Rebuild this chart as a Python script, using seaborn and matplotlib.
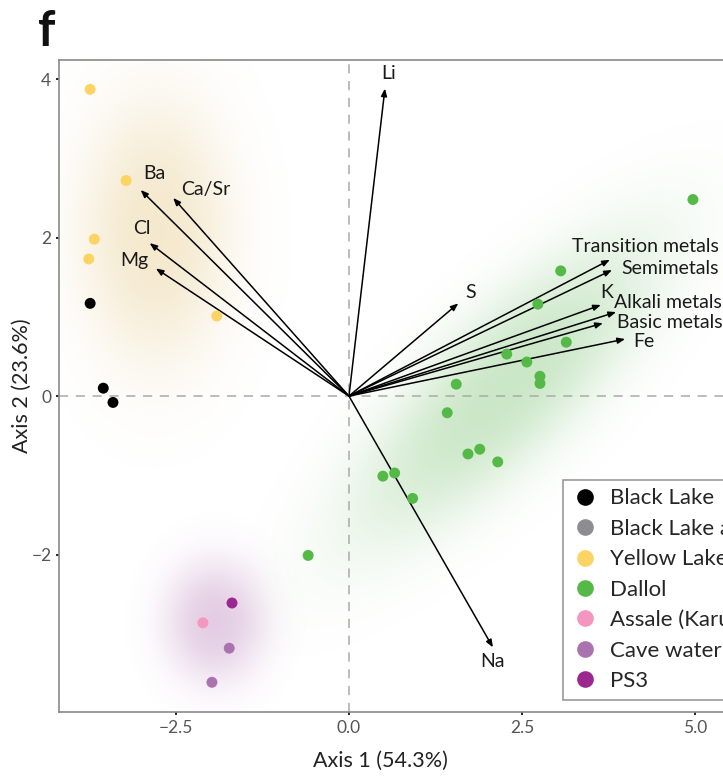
import numpy as np
import pandas as pd
import matplotlib
matplotlib.use("Agg")
import matplotlib.pyplot as plt
from matplotlib.lines import Line2D
import seaborn as sns

# sample scores (PCA axis 1 / axis 2)
black_x = [-3.74, -3.55, -3.41]
black_y = [1.17, 0.10, -0.08]
yellow_x = [-3.74, -3.22, -3.68, -3.76, -1.91]
yellow_y = [3.87, 2.72, 1.98, 1.73, 1.01]
dallol_x = [4.97, 3.06, 2.73, 3.14, 2.28, 2.57, 2.76, 2.76, 1.55, 1.42,
            1.72, 1.89, 2.15, 0.49, 0.66, 0.92, -0.59]
dallol_y = [2.48, 1.58, 1.16, 0.68, 0.53, 0.43, 0.25, 0.16, 0.15, -0.21,
            -0.73, -0.67, -0.83, -1.01, -0.97, -1.29, -2.01]
assale_x = [-2.11]
assale_y = [-2.86]
cave_x = [-1.73, -1.98]
cave_y = [-3.18, -3.61]
ps3_x = [-1.69]
ps3_y = [-2.61]

groups = ["Black Lake", "Black Lake area", "Yellow Lake", "Dallol",
          "Assale (Karum)", "Cave water", "PS3"]
group_colors = ["#000000", "#8C8C91", "#FDD364", "#55B948",
                "#F596BE", "#AA73AF", "#9B2891"]

# loadings (arrows)
var_names = ["Li", "Ba", "Ca/Sr", "Cl", "Mg", "S", "Transition metals",
             "Semimetals", "K", "Alkali metals", "Basic metals", "Fe", "Na"]
load_x = [0.52, -3.01, -2.54, -2.88, -2.79, 1.58, 3.77, 3.80, 3.64, 3.86, 3.67, 3.99, 2.08]
load_y = [3.88, 2.60, 2.50, 1.93, 1.61, 1.17, 1.72, 1.59, 1.15, 1.06, 0.92, 0.72, -3.17]

# label offsets from arrow tips (pixels)
label_off = {"Li": (4, 15), "Ba": (14, 17), "Ca/Sr": (33, 8), "Cl": (-8, 15),
             "Mg": (-22, 8), "S": (12, 11), "Transition metals": (36, 13),
             "Semimetals": (58, 2), "K": (6, 12), "Alkali metals": (52, 10),
             "Basic metals": (67, 1), "Fe": (19, -2), "Na": (0, -14)}

# density clouds: centre x, centre y, sd major, sd minor, angle (deg)
clouds = [
    ("Yellow Lake", -2.80, 2.07, 0.82, 1.25, 0, (225, 190, 110), 0.34),
    ("Dallol", 2.25, 0.1, 2.05, 0.70, 40, (90, 180, 80), 0.32),
    ("Cave water", -1.94, -2.85, 0.55, 0.58, 0, (170, 100, 170), 0.32),
]

df = pd.concat([
    pd.DataFrame({"x": black_x, "y": black_y, "group": "Black Lake"}),
    pd.DataFrame({"x": yellow_x, "y": yellow_y, "group": "Yellow Lake"}),
    pd.DataFrame({"x": dallol_x, "y": dallol_y, "group": "Dallol"}),
    pd.DataFrame({"x": assale_x, "y": assale_y, "group": "Assale (Karum)"}),
    pd.DataFrame({"x": cave_x, "y": cave_y, "group": "Cave water"}),
    pd.DataFrame({"x": ps3_x, "y": ps3_y, "group": "PS3"}),
], ignore_index=True)

sns.set_style("white")
plt.rcParams["font.family"] = ["Lato", "DejaVu Sans"]

W, H = 723, 779
fig = plt.figure(figsize=(W / 100, H / 100), dpi=100)
ax = fig.add_axes([59 / W, (H - 712) / H, (736.5 - 59) / W, (712 - 60) / H])
xlim = (-4.19, 5.6)
ylim = (-3.985, 4.24)

# soft density clouds
gx, gy = np.meshgrid(np.linspace(*xlim, 500), np.linspace(*ylim, 500))
for name, cx, cy, s1, s2, ang, col, peak in clouds:
    a = np.deg2rad(ang)
    u = (gx - cx) * np.cos(a) + (gy - cy) * np.sin(a)
    v = -(gx - cx) * np.sin(a) + (gy - cy) * np.cos(a)
    r2 = (u / s1) ** 2 + (v / s2) ** 2
    z = np.exp(-0.5 * r2 ** 1.25)
    img = np.zeros(gx.shape + (4,))
    img[..., :3] = np.array(col) / 255
    img[..., 3] = peak * z
    ax.imshow(img, extent=(*xlim, *ylim), origin="lower", aspect="auto",
              interpolation="bilinear", zorder=0)

ax.axhline(0, color="#AAAAAA", lw=1.1, ls=(0, (6, 5)), zorder=1)
ax.axvline(0, color="#AAAAAA", lw=1.1, ls=(0, (6, 5)), zorder=1)

# arrows + labels
for name, lx, ly in zip(var_names, load_x, load_y):
    ax.annotate("", xy=(lx, ly), xytext=(0, 0),
                arrowprops=dict(arrowstyle="-|>,head_length=0.55,head_width=0.22",
                                mutation_scale=8, lw=1.1, color="black",
                                shrinkA=0, shrinkB=0), zorder=2)
    dx, dy = label_off[name]
    ax.annotate(name, xy=(lx, ly), xytext=(dx * 0.72, dy * 0.72),
                textcoords="offset points", ha="center", va="center",
                fontsize=14, color="#1a1a1a", zorder=4)

sns.scatterplot(data=df, x="x", y="y", hue="group", hue_order=groups,
                palette=dict(zip(groups, group_colors)), s=62, linewidth=0,
                legend=False, ax=ax, zorder=3)

ax.set_xlim(*xlim)
ax.set_ylim(*ylim)
ax.set_xticks([-2.5, 0.0, 2.5, 5.0])
ax.set_xticklabels(["\u22122.5", "0.0", "2.5", "5.0"])
ax.set_yticks([-2, 0, 2, 4])
ax.set_yticklabels(["\u22122", "0", "2", "4"])
ax.tick_params(length=2.5, width=1.2, color="black", labelsize=12.5,
               labelcolor="#555555", pad=3, direction="out",
               bottom=True, left=True)
for sp in ax.spines.values():
    sp.set_color("#8A8A8A")
    sp.set_linewidth(1.2)

ax.set_xlabel("Axis 1 (54.3%)", fontsize=15.5, color="#222222")
ax.set_ylabel("Axis 2 (23.6%)", fontsize=15.5, color="#222222")
ax.xaxis.set_label_coords((380 - 59) / 677.5, (712 - 751) / 652)
ax.yaxis.set_label_coords((32 - 59) / 677.5, (712 - 386) / 652)

handles = [Line2D([], [], ls="", marker="o", markersize=12, color=c,
                  markeredgewidth=0) for c in group_colors]
leg = ax.legend(handles, groups, loc="lower left",
                bbox_to_anchor=(563 / W, (H - 700) / H),
                bbox_transform=fig.transFigure, borderaxespad=0,
                fontsize=16, frameon=True, fancybox=False, framealpha=1,
                edgecolor="#999999", labelspacing=0.47, handletextpad=0.5,
                handlelength=1.2, borderpad=0.4)
leg.get_frame().set_linewidth(1.2)

fig.text(38 / W, 1 - 32 / H, "f", fontsize=35, fontweight="bold",
         ha="left", va="center", color="#111111")

fig.savefig("out.png", dpi=100)
